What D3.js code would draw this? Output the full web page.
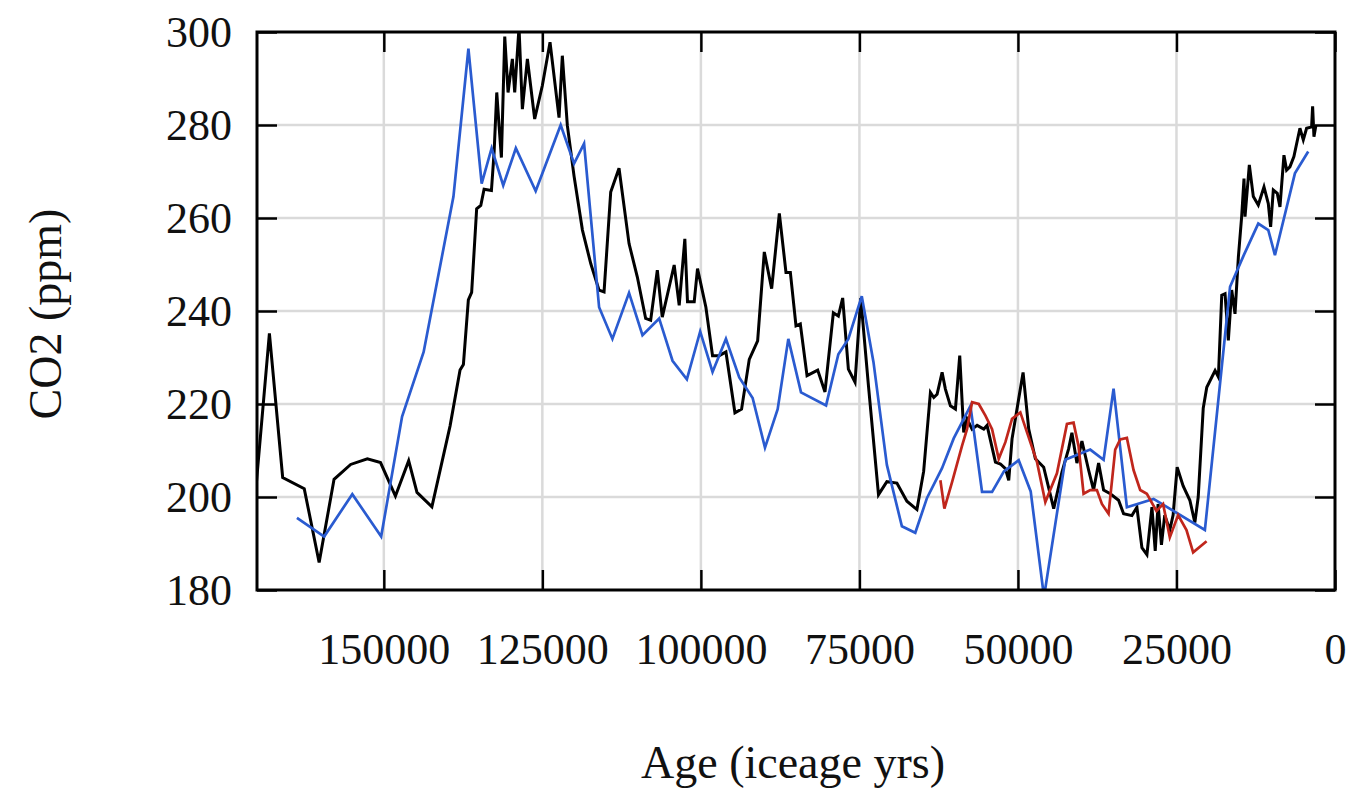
<!DOCTYPE html>
<html>
<head>
<meta charset="utf-8">
<script src="https://cdn.jsdelivr.net/npm/d3@7/dist/d3.min.js"></script>
<style>
  html, body { margin: 0; padding: 0; background: #fff; }
  svg { display: block; }
  text { font-family: "Liberation Serif", "Times New Roman", serif; fill: #111; }
</style>
</head>
<body>
<svg id="chart" width="1369" height="793"></svg>
<script>
// ---- Data (age in years BP, CO2 in ppm) ----
const xTicks = [150000, 125000, 100000, 75000, 50000, 25000, 0];
const yTicks = [180, 200, 220, 240, 260, 280, 300];

const blackAge = [170100,168044,165950,162550,160200,157850,155230,152600,150520,148170,146080,144770,142420,139550,137980,137450,136670,136150,135360,134710,134190,133030,132610,132190,131830,131460,130930,130410,129730,129360,128680,128150,127360,126210,125000,123790,122370,121850,121060,120000,118680,117370,116060,115270,114220,112910,111330,110020,108710,107920,106870,106090,104210,103420,102530,102110,101050,100530,99210,98160,97110,96050,94630,93580,92370,91050,90000,88840,87630,86580,85890,85000,84320,83260,81580,80430,79110,78320,77640,76740,75690,74790,73580,71990,70670,69090,67510,65930,64870,63800,63270,62750,61960,61440,60650,59860,59180,58550,58030,57230,56440,55390,54870,53550,52760,51980,51450,50930,49190,48300,47250,45940,44360,43050,42000,41490,40700,39910,38860,38070,37280,36490,35440,34130,33340,32030,31240,30450,29660,28870,28350,27900,27370,26850,26050,25530,24890,23950,22890,22100,21570,20780,20220,18910,18390,17860,17340,16820,16290,15770,15240,14720,14350,14190,13510,12880,12100,11200,10520,10150,9730,9100,8680,8050,7630,7110,6480,5530,5000,4480,3690,3530,3320,3000];
const blackCO2 = [203,235.2,204.2,201.8,185.9,203.8,207,208.2,207.4,200.2,207.8,201,197.9,215.3,227.3,228.5,242.4,244,262,262.7,266.2,265.9,274.1,287,279.9,273,299,287,294.2,287,301,283.4,294.2,281.3,288.5,297.8,281.6,294.9,279.9,269,257.4,250.2,244.5,244.1,265.6,270.7,254.5,247.3,238.4,238,248.8,238.7,249.9,241.2,255.5,242,242,249.1,240.8,230.4,230.4,231.2,218.1,218.9,229.6,233.6,252.7,244.8,261,248.3,248.3,236.8,237.2,226.1,227.3,222.6,239.6,238.9,242.8,227.5,224.7,242.8,224,200.5,203.3,203,199.1,197.3,205.5,222.5,221.4,222.1,226.8,223.2,219.6,218.9,230.4,213.9,216.8,214.6,215.4,214.6,215.4,207.5,207.1,206.1,203.6,212.5,226.8,214.6,208.2,206.4,197.5,205.4,210.4,213.8,207.3,212,205.8,201.5,207.3,201.5,200.7,199.3,196.4,196,197.8,189.1,187.6,197.8,188.4,198.5,189.7,196.1,192.9,196.1,206.4,202.4,199.3,194.5,200,219.1,223.6,227.2,225.8,243.4,243.7,233.7,244.5,239.4,251.6,260.3,268.5,260.3,271.4,264.6,262.8,266.7,263.1,258.1,266,265.3,262.4,273.5,270.3,271,273.2,279.3,276.8,279.3,279.6,284,277.5,280];

const blueAge = [163700,159410,154970,150420,147120,143720,139020,136660,134570,133000,131170,129180,126050,122110,120000,118420,116050,113950,111330,109210,106580,104470,102210,100110,98160,96050,93950,91840,89890,87890,86210,84210,80260,78320,76740,74630,72780,70670,68300,66190,64340,61970,60130,57490,55660,54080,52210,49880,47990,45890,42540,38600,36490,34920,32820,28610,20520,16550,14450,12100,10520,9470,6320,4220];
const blueCO2 = [195.5,191.5,200.6,191.5,217.3,231.2,264.6,296.4,267.4,275,267,275,265.8,280,271.7,276,240.8,234,243.9,234.8,238.4,229.3,225.3,235.6,226.9,234,225.7,221.3,210.6,218.9,234,222.5,219.7,230.7,234,243.2,229,206.9,193.7,192.3,199.8,206.2,212.6,219.6,201.1,201.1,205.5,207.9,201.2,178.5,208,210.2,208,223.3,197.8,199.6,192.9,245.2,251.8,258.8,257.4,252,269.6,274.3];

const redAge = [62230,61600,60390,58820,58030,57230,56180,55130,54080,53030,51980,50930,49620,48570,46990,45680,43850,42270,41230,40440,39650,38600,37550,36760,35710,34660,33870,32820,31770,30720,29670,28160,27110,26050,24740,23420,22370,20250];
const redCO2 = [203.6,197.5,203.2,211,214.6,220.4,220,217.5,214.6,208.2,211.8,216.8,218.2,213.9,207.5,198.9,205.1,215.7,216,210.9,200.7,201.5,201.5,198.5,196.4,210.2,212.4,212.7,205.8,201.5,200.7,197,198.5,191.3,196.1,192.9,188.1,190.5];

const series = [
  { name: "black", age: blackAge, co2: blackCO2, color: "#000000", width: 3 },
  { name: "blue",  age: blueAge,  co2: blueCO2,  color: "#2a5bd0", width: 2.7 },
  { name: "red",   age: redAge,   co2: redCO2,   color: "#c0261c", width: 2.7 }
];

// ---- Layout ----
const L = 257, R = 1335, T = 32, B = 590;

const svg = d3.select("#chart");
const x = d3.scaleLinear().domain([170000, 0]).range([L, R]);
const y = d3.scaleLinear().domain([180, 300]).range([B, T]);

svg.append("defs").append("clipPath").attr("id", "plotclip")
  .append("rect").attr("x", L).attr("y", T).attr("width", R - L).attr("height", B - T);

// grid
const grid = svg.append("g");
grid.selectAll("line.gx").data(xTicks.filter(d => d > 0 && d < 170000)).enter()
  .append("line").attr("x1", d => x(d)).attr("x2", d => x(d)).attr("y1", T).attr("y2", B)
  .attr("stroke", "#dadada").attr("stroke-width", 2.5);
grid.selectAll("line.gy").data(yTicks.filter(d => d > 180 && d < 300)).enter()
  .append("line").attr("x1", L).attr("x2", R).attr("y1", d => y(d)).attr("y2", d => y(d))
  .attr("stroke", "#dadada").attr("stroke-width", 2.5);

// lines
const line = d3.line().x(d => x(d[0])).y(d => y(d[1]));
const plot = svg.append("g").attr("clip-path", "url(#plotclip)");
series.forEach(s => {
  const pts = s.age.map((a, i) => [a, s.co2[i]]);
  plot.append("path").datum(pts).attr("d", line)
    .attr("fill", "none").attr("stroke", s.color).attr("stroke-width", s.width)
    .attr("stroke-linejoin", "miter").attr("stroke-miterlimit", 4);
});

// axes with inward ticks
const tickLen = 20;
const axB = svg.append("g").attr("transform", `translate(0,${B})`)
  .call(d3.axisBottom(x).tickValues(xTicks).tickSizeInner(-tickLen).tickSizeOuter(0).tickPadding(52).tickFormat(d3.format("d")));
const axT = svg.append("g").attr("transform", `translate(0,${T})`)
  .call(d3.axisTop(x).tickValues(xTicks).tickSizeInner(-tickLen).tickSizeOuter(0).tickFormat(""));
const axL = svg.append("g").attr("transform", `translate(${L},0)`)
  .call(d3.axisLeft(y).tickValues(yTicks).tickSizeInner(-tickLen).tickSizeOuter(0).tickPadding(25).tickFormat(d3.format("d")));
const axR = svg.append("g").attr("transform", `translate(${R},0)`)
  .call(d3.axisRight(y).tickValues(yTicks).tickSizeInner(-tickLen).tickSizeOuter(0).tickFormat(""));

[axB, axT, axL, axR].forEach(a => {
  a.select(".domain").remove();
  a.selectAll(".tick line").attr("stroke", "#000").attr("stroke-width", 2.5);
  a.selectAll("text").attr("font-family", "Liberation Serif, serif").attr("font-size", 44).attr("fill", "#111");
});
axB.selectAll("text").attr("dy", "0.5em");

// frame
svg.append("rect").attr("x", L).attr("y", T).attr("width", R - L).attr("height", B - T)
  .attr("fill", "none").attr("stroke", "#000").attr("stroke-width", 3);

// titles
svg.append("text").attr("x", (L + R) / 2 - 3).attr("y", 778)
  .attr("text-anchor", "middle").attr("font-size", 46).text("Age (iceage yrs)");
svg.append("text").attr("transform", "translate(61,314) rotate(-90)")
  .attr("text-anchor", "middle").attr("font-size", 46).text("CO2 (ppm)");
</script>
</body>
</html>
